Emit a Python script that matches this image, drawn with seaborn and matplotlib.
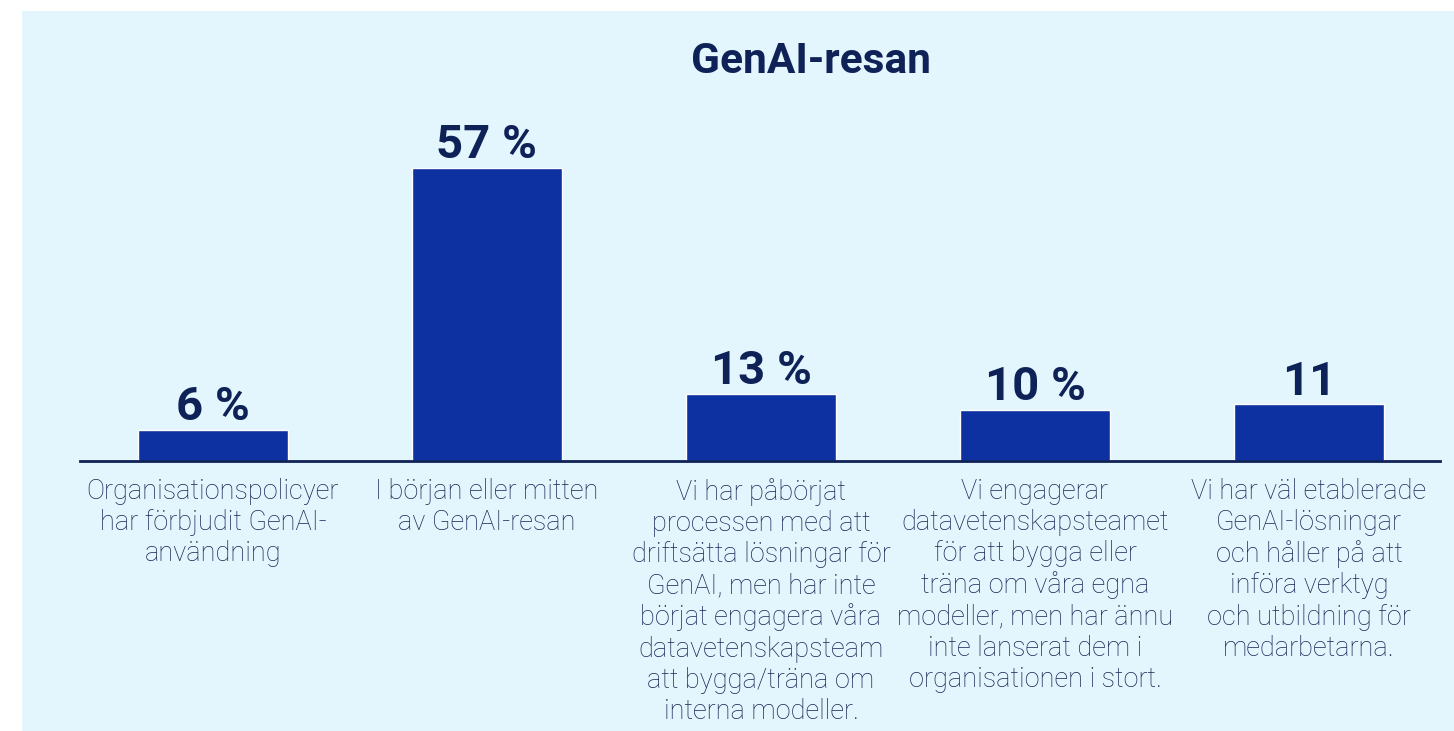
import matplotlib
matplotlib.use("Agg")
import matplotlib.pyplot as plt
from matplotlib.patches import Rectangle
import seaborn as sns
import pandas as pd

# data
categories = [
    "Organisationspolicyer\nhar förbjudit GenAI-\nanvändning",
    "I början eller mitten\nav GenAI-resan",
    "Vi har påbörjat\nprocessen med att\ndriftsätta lösningar för\nGenAI, men har inte\nbörjat engagera våra\ndatavetenskapsteam\natt bygga/träna om\ninterna modeller.",
    "Vi engagerar\ndatavetenskapsteamet\nför att bygga eller\nträna om våra egna\nmodeller, men har ännu\ninte lanserat dem i\norganisationen i stort.",
    "Vi har väl etablerade\nGenAI-lösningar\noch håller på att\ninföra verktyg\noch utbildning för\nmedarbetarna.",
]
values = [6, 57, 13, 10, 11]
value_labels = ["6 %", "57 %", "13 %", "10 %", "11"]
title = "GenAI-resan"

BG = "#e3f5fd"
BAR = "#0d31a0"
NAVY = "#0f2257"
TEXT = "#182755"

sns.set_theme(style="white")
plt.rcParams["font.family"] = ["Roboto", "DejaVu Sans"]

df = pd.DataFrame({"cat": [str(i) for i in range(len(values))], "val": values})

W, H = 1454, 731
fig = plt.figure(figsize=(W / 100, H / 100), dpi=100)
fig.patch.set_facecolor("white")
fig.patches.append(Rectangle((22 / W, 0), 1 - 22 / W, (H - 11) / H,
                             transform=fig.transFigure, facecolor=BG,
                             edgecolor="none", zorder=-10))

base_y = 461
px_per_unit = (461 - 168) / 57
ymax = 70
top_px = base_y - ymax * px_per_unit
ax = fig.add_axes([80 / W, (H - base_y) / H, 1360 / W, (base_y - top_px) / H])
ax.set_facecolor("none")

sns.barplot(data=df, x="cat", y="val", color=BAR, width=0.545, saturation=1,
            ax=ax, zorder=2)
ax.set_xlim(-0.485, 4.478)
ax.set_ylim(0, ymax)

for i, (v, lab) in enumerate(zip(values, value_labels)):
    ax.annotate(lab, (i, v), xytext=(0, 7), textcoords="offset points",
                ha="center", va="baseline", fontsize=34, fontweight="bold",
                color=NAVY)

ax.set_xticks(range(len(categories)))
ax.set_xticklabels(categories, fontsize=19.5, fontweight="light", color=TEXT,
                   linespacing=1.2, multialignment="center")
ax.tick_params(axis="x", length=0, pad=12)
ax.set_yticks([])
ax.set_xlabel("")
ax.set_ylabel("")

for s in ["top", "left", "right"]:
    ax.spines[s].set_visible(False)
ax.spines["bottom"].set_color(NAVY)
ax.spines["bottom"].set_linewidth(2)
ax.spines["bottom"].set_zorder(5)

fig.text(811 / W, 1 - 73 / H, title, ha="center", va="baseline",
         fontsize=30.5, fontweight="bold", color=NAVY)

fig.savefig("out.png", dpi=100, facecolor=fig.get_facecolor())
